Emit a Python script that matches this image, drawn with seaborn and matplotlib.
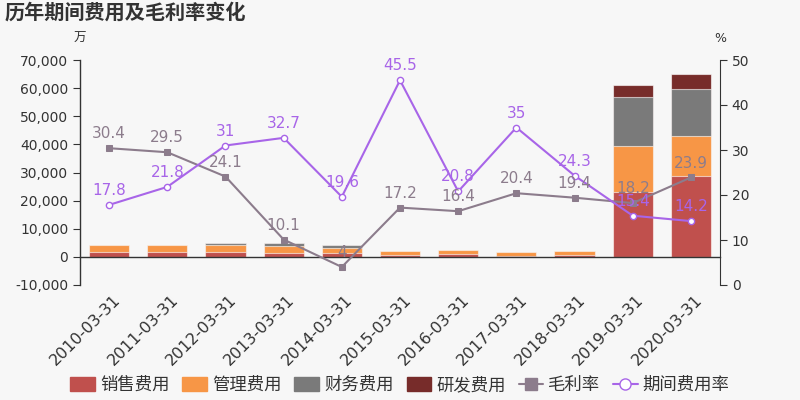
import numpy as np
import pandas as pd
import matplotlib
matplotlib.use("Agg")
import matplotlib.pyplot as plt
from matplotlib.patches import Patch
from matplotlib.lines import Line2D
import seaborn as sns

dates = ["2010-03-31", "2011-03-31", "2012-03-31", "2013-03-31", "2014-03-31",
         "2015-03-31", "2016-03-31", "2017-03-31", "2018-03-31", "2019-03-31", "2020-03-31"]
sales = [1600, 1850, 1900, 1400, 1300, 700, 1000, 400, 600, 23200, 28800]
admin = [2700, 2300, 2450, 2350, 1750, 1450, 1300, 1450, 1550, 16400, 14300]
finance = [0, 100, 700, 1200, 1200, 100, 300, 50, 100, 17300, 16700]
rnd = [0, 0, 0, 0, 0, 0, 0, 0, 0, 4200, 5300]
gross_margin = [30.4, 29.5, 24.1, 10.1, 4, 17.2, 16.4, 20.4, 19.4, 18.2, 23.9]
expense_rate = [17.8, 21.8, 31, 32.7, 19.6, 45.5, 20.8, 35, 24.3, 15.4, 14.2]

bar_names = ["销售费用", "管理费用", "财务费用", "研发费用"]
bar_colors = ["#c0504d", "#f79646", "#7a7a7a", "#772c2a"]
gm_color = "#8c7c8c"
er_color = "#a865e8"
bg = "#f7f7f7"

sns.set_style("white")
plt.rcParams["font.family"] = ["DejaVu Sans", "Noto Sans CJK SC"]

fig = plt.figure(figsize=(8, 4), dpi=100, facecolor=bg)
ax = fig.add_axes([0.1, 0.2875, 0.8, 0.5625])
ax.set_facecolor(bg)

df = pd.DataFrame({"date": dates, "s": sales, "a": admin, "f": finance, "r": rnd})
cum1 = df["s"]
cum2 = cum1 + df["a"]
cum3 = cum2 + df["f"]
cum4 = cum3 + df["r"]
for vals, col in zip([cum4, cum3, cum2, cum1], bar_colors[::-1]):
    sns.barplot(x=df["date"], y=vals, color=col, width=0.69, ax=ax,
                edgecolor=(1, 1, 1, 0.6), linewidth=0.8, saturation=1, zorder=2)

ax.set_ylim(-10000, 70000)
ax.set_xlim(-0.5, 10.5)
ax.set_yticks(np.arange(-10000, 70001, 10000))
ax.yaxis.set_major_formatter(matplotlib.ticker.FuncFormatter(lambda v, p: f"{int(v):,}"))
ax.set_xlabel("")
ax.set_ylabel("")
ax.spines["top"].set_visible(False)
ax.spines["right"].set_visible(False)
ax.spines["bottom"].set_position(("data", 0))
for s in ["left", "bottom"]:
    ax.spines[s].set_color("#333333")
    ax.spines[s].set_linewidth(1)
ax.set_xticks(np.arange(0.5, 10.5, 1))
ax.set_xticklabels([])
ax.tick_params(axis="x", which="major", length=5, color="#333333", direction="out")
ax.tick_params(axis="y", length=5, color="#333333", labelsize=10, labelcolor="#333333", left=True)

# category labels below the plot area
for i, d in enumerate(dates):
    ax.annotate(d, (i, 0), xycoords=("data", "axes fraction"), xytext=(2.5, -5),
                textcoords="offset points", rotation=45, ha="right", va="top",
                rotation_mode="anchor", fontsize=11.5, color="#333333")

ax2 = ax.twinx()
ax2.set_ylim(0, 50)
ax2.set_yticks(np.arange(0, 51, 10))
ax2.tick_params(axis="y", length=5, color="#333333", labelsize=10, labelcolor="#333333", right=True)
for s in ["top", "left", "bottom"]:
    ax2.spines[s].set_visible(False)
ax2.spines["right"].set_color("#333333")

xs = np.arange(len(dates))
sns.lineplot(x=xs, y=gross_margin, ax=ax2, color=gm_color, marker="s", markersize=4,
             markeredgecolor=gm_color, linewidth=1.5, sort=False, zorder=3)
sns.lineplot(x=xs, y=expense_rate, ax=ax2, color=er_color, marker="o", markersize=4.5,
             markerfacecolor="white", markeredgecolor=er_color, markeredgewidth=1,
             linewidth=1.5, sort=False, zorder=4)
for x, v in zip(xs, gross_margin):
    ax2.annotate(f"{v:g}", (x, v), xytext=(0, 5), textcoords="offset points",
                 ha="center", va="bottom", fontsize=11, color=gm_color, zorder=5)
for x, v in zip(xs, expense_rate):
    ax2.annotate(f"{v:g}", (x, v), xytext=(0, 5), textcoords="offset points",
                 ha="center", va="bottom", fontsize=11, color=er_color, zorder=6)
ax2.set_xlim(-0.5, 10.5)

fig.text(0.006, 0.967, "历年期间费用及毛利率变化", fontsize=14.5, fontweight="bold",
         color="#333333", ha="left", va="center")
fig.text(0.1, 0.905, "万", fontsize=9, color="#333333", ha="center", va="center")
fig.text(0.9, 0.905, "%", fontsize=9, color="#333333", ha="center", va="center")

handles = [Patch(facecolor=c, edgecolor=c, label=n) for c, n in zip(bar_colors, bar_names)]
handles.append(Line2D([0], [0], color=gm_color, marker="s", markersize=8, linewidth=1.5, label="毛利率"))
handles.append(Line2D([0], [0], color=er_color, marker="o", markersize=8, markerfacecolor="white",
                      linewidth=1.5, label="期间费用率"))
fig.legend(handles=handles, loc="center", bbox_to_anchor=(0.5, 0.0375), ncol=6, frameon=False,
           fontsize=12.5, handlelength=1.4, handleheight=0.85, handletextpad=0.3, columnspacing=0.75,
           labelcolor="#333333")

fig.savefig("out.png", dpi=100, facecolor=bg)
